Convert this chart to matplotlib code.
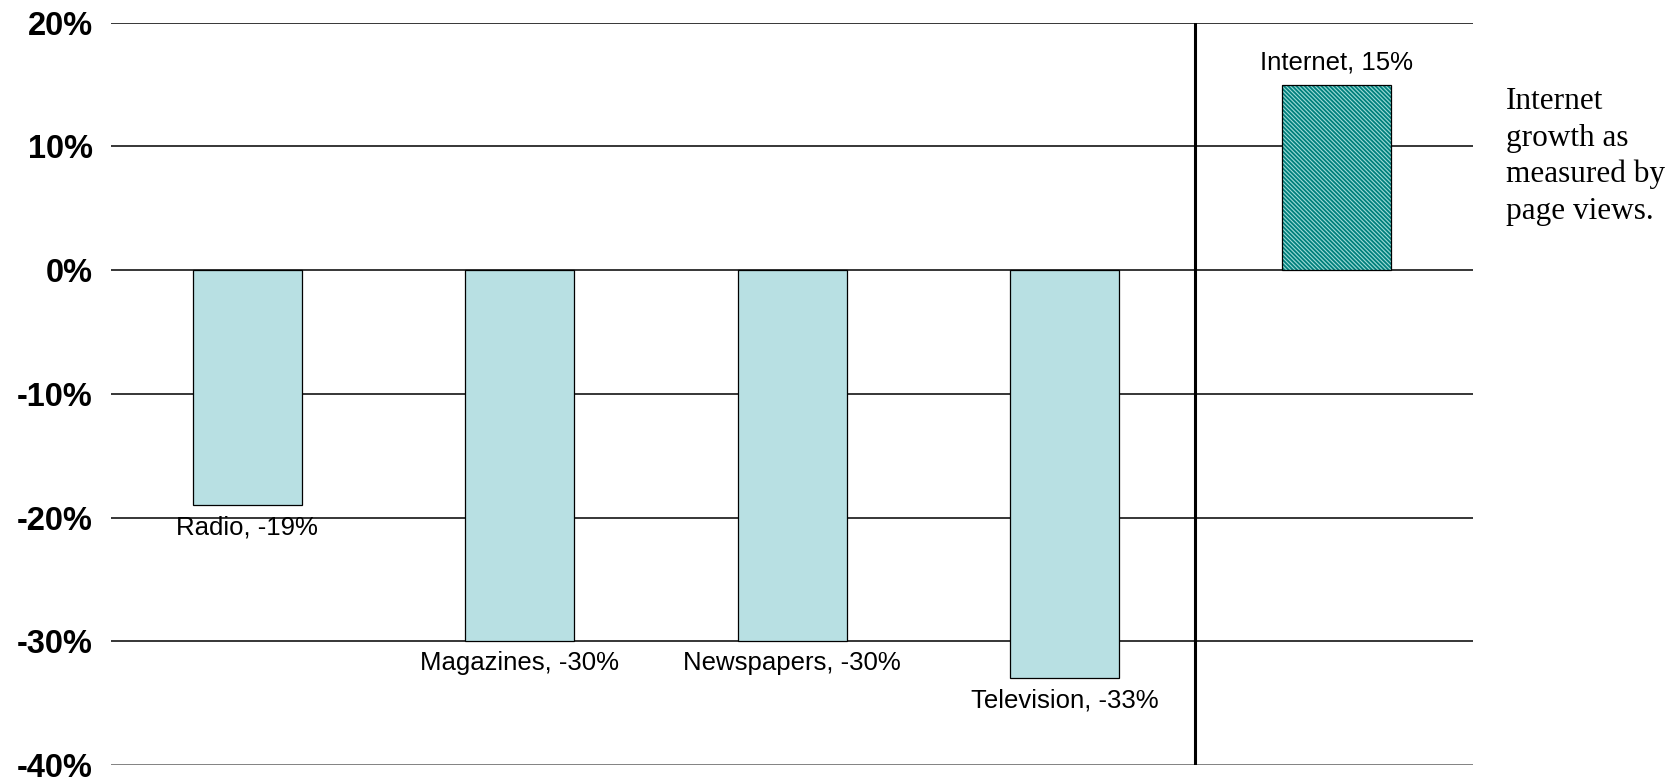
import matplotlib
matplotlib.use("Agg")
import matplotlib.pyplot as plt

categories = ["Radio", "Magazines", "Newspapers", "Television", "Internet"]
values = [-0.19, -0.30, -0.30, -0.33, 0.15]
yticks = [-0.4, -0.3, -0.2, -0.1, 0.0, 0.1, 0.2]
ytick_labels = ["-40%", "-30%", "-20%", "-10%", "0%", "10%", "20%"]
note = "Internet\ngrowth as\nmeasured by\npage views."

plt.rcParams["hatch.linewidth"] = 0.8

fig = plt.figure(figsize=(16.8, 7.79), dpi=100)
ax = fig.add_axes([0.0661, 0.018, 0.8107, 0.9529])

x = list(range(len(categories)))
ax.set_xlim(-0.5, len(categories) - 0.5)
ax.set_ylim(-0.4, 0.2)

# horizontal gridlines
for t in yticks:
    ax.axhline(t, color="#606060" if t == -0.4 else "black", lw=1.1, zorder=1)

# traditional media bars
ax.bar(x[:4], values[:4], width=0.4, color="#b8e0e3", edgecolor="black",
       linewidth=0.9, zorder=2)
# internet bar: hatched fill, then a plain black outline on top
ax.bar(x[4], values[4], width=0.4, color="#007f7c", edgecolor="#9fdcd8",
       hatch="\\" * 8, linewidth=0, zorder=2)
ax.bar(x[4], values[4], width=0.4, fill=False, edgecolor="black",
       linewidth=0.9, zorder=3)

# separator between old media and the internet
ax.axvline(3.48, color="black", lw=2.2, zorder=4)

for xi, v, name in zip(x, values, categories):
    label = f"{name}, {round(v * 100):d}%"
    off = 16 if v > 0 else -16
    ax.annotate(label, (xi, v), xytext=(0, off), textcoords="offset points",
                ha="center", va="center", fontsize=18.5,
                family="Liberation Sans", zorder=5)

ax.set_yticks(yticks)
ax.set_yticklabels(ytick_labels, fontsize=23.5, fontweight="bold",
                   family="Liberation Sans")
ax.tick_params(axis="y", length=0, pad=13)
ax.set_xticks([])
for s in ax.spines.values():
    s.set_visible(False)

fig.text(0.8965, 0.888, note, ha="left", va="top", fontsize=22.5,
         family="Liberation Serif", linespacing=1.33)

fig.savefig("out.png", dpi=100)
